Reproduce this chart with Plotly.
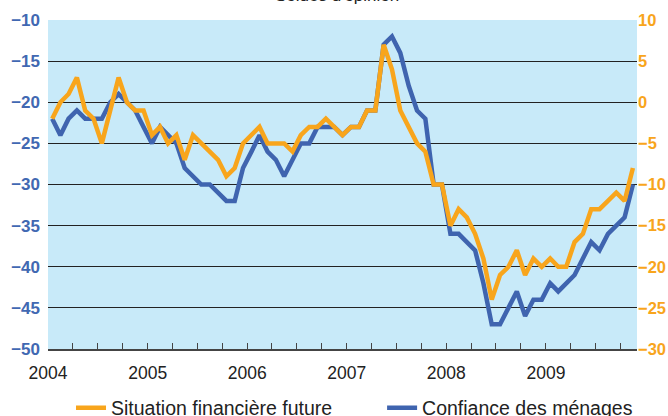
import plotly.graph_objects as go

months = [f"{y}-{m:02d}" for y in range(2004, 2010) for m in range(1, 13)][:71]

confiance = [-22, -24, -22, -21, -22, -22, -22, -20, -19, -20,
             -21, -23, -25, -23, -24, -25, -28, -29, -30, -30,
             -31, -32, -32, -28, -26, -24, -26, -27, -29, -27,
             -25, -25, -23, -23, -23, -24, -23, -23, -21, -21,
             -13, -12, -14, -18, -21, -22, -30, -30, -36, -36,
             -37, -38, -42, -47, -47, -45, -43, -46, -44, -44,
             -42, -43, -42, -41, -39, -37, -38, -36, -35, -34, -30]

situation = [-2, 0, 1, 3, -1, -2, -5, -1, 3, 0,
             -1, -1, -4, -3, -5, -4, -7, -4, -5, -6,
             -7, -9, -8, -5, -4, -3, -5, -5, -5, -6,
             -4, -3, -3, -2, -3, -4, -3, -3, -1, -1,
             7, 4, -1, -3, -5, -6, -10, -10, -15, -13,
             -14, -16, -19, -24, -21, -20, -18, -21, -19, -20,
             -19, -20, -20, -17, -16, -13, -13, -12, -11, -12, -8]

quarter_ticks = [f"{y}-{m:02d}-01" for y in range(2004, 2010) for m in (1, 4, 7, 10)]
quarter_text = [str(y) if m == 1 else "" for y in range(2004, 2010) for m in (1, 4, 7, 10)]
left_ticks = [-50, -45, -40, -35, -30, -25, -20, -15, -10]
right_ticks = [-30, -25, -20, -15, -10, -5, 0, 5, 10]

BLUE = "#3F64AF"
ORANGE = "#F8A51C"
FONT = "Liberation Sans, Arial, sans-serif"

fig = go.Figure()
fig.add_trace(go.Scatter(
    x=months, y=confiance, name="Confiance des ménages", mode="lines",
    xperiod="M1", xperiodalignment="middle",
    line=dict(color=BLUE, width=4.5), legend="legend2", yaxis="y"))
fig.add_trace(go.Scatter(
    x=months, y=situation, name="Situation financière future", mode="lines",
    xperiod="M1", xperiodalignment="middle",
    line=dict(color=ORANGE, width=4.5), legend="legend", yaxis="y2"))

legend_style = dict(
    orientation="h", xref="container", yref="container",
    xanchor="left", y=0.019, yanchor="middle",
    font=dict(size=19.5, color="#222222"), bgcolor="rgba(0,0,0,0)",
)

fig.update_layout(
    width=668, height=416,
    margin=dict(l=48, r=31, t=20, b=67, autoexpand=False),
    paper_bgcolor="white", plot_bgcolor="#C8EAF9",
    font=dict(family=FONT, size=17, color="#222222"),
    xaxis=dict(
        type="date", range=["2004-01-01", "2009-12-01"],
        tickmode="array", tickvals=quarter_ticks, ticktext=quarter_text,
        ticks="inside", ticklen=6, tickwidth=1.3, tickcolor="#444444",
        showline=True, linecolor="#444444", linewidth=1.5,
        showgrid=False, zeroline=False, ticklabelstandoff=7,
        tickfont=dict(size=17.5, color="#222222"),
    ),
    yaxis=dict(
        range=[-50, -10], tickmode="array", tickvals=left_ticks,
        showgrid=True, gridcolor="#222222", gridwidth=1.3,
        zeroline=False, showline=False, ticks="",
        ticklabelstandoff=7,
        tickfont=dict(size=17, color="#4168B2", weight="bold"),
    ),
    yaxis2=dict(
        range=[-30, 10], tickmode="array", tickvals=right_ticks,
        overlaying="y", side="right", showgrid=False, zeroline=False,
        showline=False, ticks="", ticklabelstandoff=0,
        tickfont=dict(size=16.5, color=ORANGE, weight="bold"),
    ),
    showlegend=True,
    legend=dict(x=0.1063, **legend_style),
    legend2=dict(x=0.572, **legend_style),
    annotations=[dict(
        text="Soldes d'opinion", xref="paper", yref="paper",
        x=0.49, y=1.039, xanchor="center", yanchor="bottom",
        showarrow=False, font=dict(size=17, color="#222222"),
    )],
)

fig.write_html("out.html", config={"displayModeBar": False},
               post_script="document.body.style.margin='0';")
